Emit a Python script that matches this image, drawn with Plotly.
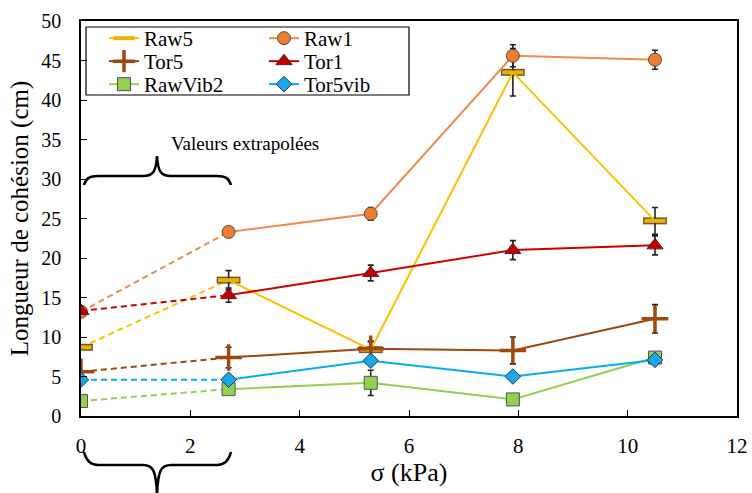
import plotly.graph_objects as go

# ---------------- data ----------------
sigma = [0, 2.7, 5.3, 7.9, 10.5]
nan = float("nan")

raw5 = [8.7, 17.2, 8.4, 43.5, 24.7]
raw5_err = [nan, 1.2, 1.0, 3.0, 1.7]
raw1 = [13.2, 23.3, 25.6, 45.6, 45.1]
raw1_err = [nan, 0.4, 0.8, 1.4, 1.2]
tor5 = [5.6, 7.4, 8.5, 8.3, 12.3]
tor5_err = [nan, 1.3, 1.0, 1.7, 1.8]
tor1 = [13.3, 15.3, 18.1, 21.0, 21.6]
tor1_err = [nan, 0.9, 1.0, 1.2, 1.2]
rawvib2 = [1.9, 3.4, 4.2, 2.1, 7.4]
rawvib2_err = [nan, nan, 1.6, nan, nan]
tor5vib = [4.6, 4.6, 7.0, 5.0, 7.1]
tor5vib_err = [nan, nan, nan, nan, nan]

x_ticks = [0, 2, 4, 6, 8, 10, 12]
y_ticks = [0, 5, 10, 15, 20, 25, 30, 35, 40, 45, 50]

FONT = "Liberation Serif"

# legend slot: (legend id, column x px, row centre y px)
series = [
    dict(name="Raw5", y=raw5, err=raw5_err, line="#FFC000", leg=("legend", 104, 38.5),
         marker=dict(symbol="line-ew", size=15, color="#F0B000",
                     line=dict(color="#F0B000", width=4)), outline=True),
    dict(name="Raw1", y=raw1, err=raw1_err, line="#F08A4B", leg=("legend2", 264, 38.5),
         marker=dict(symbol="circle", size=13, color="#ED7D31",
                     line=dict(color="#5a4a40", width=1))),
    dict(name="Tor5", y=tor5, err=tor5_err, line="#9E480E", leg=("legend3", 104, 61.5),
         marker=dict(symbol="cross-thin", size=19, color="#9E480E",
                     line=dict(color="#9E480E", width=3.5))),
    dict(name="Tor1", y=tor1, err=tor1_err, line="#CC0000", leg=("legend4", 264, 61.5),
         marker=dict(symbol="triangle-up", size=14, color="#C00000",
                     line=dict(color="#5a2020", width=1))),
    dict(name="RawVib2", y=rawvib2, err=rawvib2_err, line="#92D050", leg=("legend5", 104, 84.5),
         marker=dict(symbol="square", size=13, color="#92D050",
                     line=dict(color="#555555", width=1))),
    dict(name="Tor5vib", y=tor5vib, err=tor5vib_err, line="#00B0F0", leg=("legend6", 264, 84.5),
         marker=dict(symbol="diamond", size=12, color="#1BA8E8",
                     line=dict(color="#1F3A5F", width=1))),
]

L, R, T, B = 81, 737, 21, 416
def px2paper(px, py):
    return (px - L) / (R - L), (B - py) / (B - T)
def P(px, py):
    return "%.5f,%.5f" % px2paper(px, py)

fig = go.Figure()
legends = {}
for s in series:
    lid, lx, ly = s["leg"]
    fig.add_trace(go.Scatter(x=sigma[:2], y=s["y"][:2], mode="lines",
                             line=dict(color=s["line"], width=2, dash="6px,4px"),
                             showlegend=False, hoverinfo="skip"))
    if s.get("outline"):
        fig.add_trace(go.Scatter(x=sigma, y=s["y"], mode="markers",
                                 marker=dict(symbol="line-ew", size=17,
                                             line=dict(color="#6b5a2a", width=7)),
                                 showlegend=False, hoverinfo="skip"))
    fig.add_trace(go.Scatter(x=sigma[1:], y=s["y"][1:], mode="lines+markers",
                             name=s["name"], legend=lid,
                             line=dict(color=s["line"], width=2),
                             marker=s["marker"],
                             error_y=dict(type="data", array=s["err"][1:], visible=True,
                                          color="#222222", thickness=1.6, width=3)))
    fig.add_trace(go.Scatter(x=sigma[:1], y=s["y"][:1], mode="markers",
                             marker=s["marker"], showlegend=False, hoverinfo="skip"))
    px_, py_ = px2paper(lx, ly)
    legends[lid] = dict(x=px_, y=py_, xanchor="left", yanchor="middle",
                        orientation="v", bgcolor="rgba(0,0,0,0)", borderwidth=0,
                        font=dict(size=21, family=FONT))

top_brace = ("M" + P(84, 185) + " C" + P(86, 178) + " " + P(90, 176) + " " + P(98, 176) +
             " L" + P(143, 176) + " C" + P(153, 176) + " " + P(156, 172) + " " + P(157, 156) +
             " C" + P(158, 172) + " " + P(161, 176) + " " + P(171, 176) +
             " L" + P(217, 176) + " C" + P(225, 176) + " " + P(229, 178) + " " + P(231, 185))
bot_brace = ("M" + P(84, 452) + " C" + P(86, 460) + " " + P(90, 465) + " " + P(98, 465) +
             " L" + P(143, 465) + " C" + P(153, 465) + " " + P(156, 470) + " " + P(157, 495) +
             " M" + P(157, 495) + " C" + P(158, 470) + " " + P(161, 465) + " " + P(171, 465) +
             " L" + P(217, 465) + " C" + P(225, 465) + " " + P(229, 460) + " " + P(231, 452))

lx0, ly0 = px2paper(86, 95)
lx1, ly1 = px2paper(409, 27)
shapes = [
    dict(type="rect", xref="paper", yref="paper", x0=lx0, y0=ly0, x1=lx1, y1=ly1,
         line=dict(color="black", width=1.2), fillcolor="white", layer="below"),
    dict(type="path", xref="paper", yref="paper", path=top_brace,
         line=dict(color="black", width=2.5)),
    dict(type="path", xref="paper", yref="paper", path=bot_brace,
         line=dict(color="black", width=2.5)),
]

fig.update_layout(
    width=752, height=493,
    margin=dict(l=L, r=752 - R, t=T, b=493 - B),
    paper_bgcolor="white", plot_bgcolor="rgba(0,0,0,0)",
    font=dict(family=FONT, color="black"),
    shapes=shapes,
    annotations=[dict(text="Valeurs extrapolées", xref="paper", yref="paper",
                      x=(169 - L) / (R - L), y=(B - 131) / (B - T),
                      showarrow=False, font=dict(size=19, family=FONT))],
    showlegend=True,
    xaxis=dict(range=[0, 12], tickvals=x_ticks, ticks="inside", ticklen=6,
               tickcolor="black", showline=True, linecolor="black", linewidth=1.5,
               mirror=True, showgrid=False, zeroline=False, automargin=False,
               tickfont=dict(size=21, family=FONT), ticklabelstandoff=10,
               title=dict(text="σ (kPa)", font=dict(size=26, family=FONT), standoff=6)),
    yaxis=dict(range=[0, 50], tickvals=y_ticks, ticks="inside", ticklen=6,
               tickcolor="black", showline=True, linecolor="black", linewidth=1.5,
               mirror=True, showgrid=False, zeroline=False, automargin=False,
               tickfont=dict(size=20, family=FONT), ticklabelstandoff=14,
               title=dict(text="Longueur de cohésion (cm)", font=dict(size=25, family=FONT),
                          standoff=6)),
    **legends,
)

fig.write_html("out.html", config={"displayModeBar": False},
               post_script="document.body.style.margin='0';")
